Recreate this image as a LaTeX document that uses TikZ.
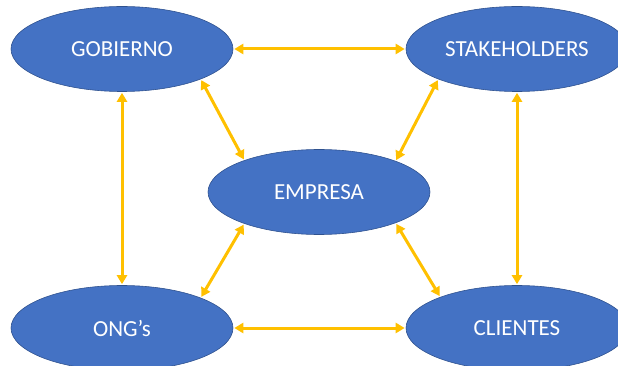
\documentclass[tikz,border=0pt]{standalone}
\usepackage{fontspec}
\setmainfont{Carlito}
\usetikzlibrary{shapes.geometric,arrows.meta}
\definecolor{nodeblue}{HTML}{4472C4}
\definecolor{nodeedge}{HTML}{2F528F}
\definecolor{linkgold}{HTML}{FFC000}

\begin{document}
\begin{tikzpicture}[x=1pt,y=-1pt,>={Triangle[length=9pt,width=10pt]},auto,main node/.style={ellipse,draw=nodeedge,line width=0.6pt,fill=nodeblue,text=white,inner sep=0pt,minimum width=222pt,minimum height=85pt,font=\fontsize{23}{28}\selectfont}]
                \useasboundingbox (0,0) rectangle (618,366);
                \clip (0,0) rectangle (618,366);
                \node[main node] (gobierno) at (122,49) {GOBIERNO};
                \node[main node] (stakeholders) [right of=gobierno,node distance=395pt] {STAKEHOLDERS};
                \node[main node] (ong) [below of=gobierno,node distance=279pt] {ONG’s};
                \node[main node] (clientes) [right of=ong,node distance=395pt] {CLIENTES};
                \node[main node] (empresa) at (319,192) {EMPRESA};

                \path[every edge/.style={draw=linkgold,line width=3pt,<->,shorten >=1pt,shorten <=1pt}]
                    (gobierno.east) edge (stakeholders.west)
                    (ong.east) edge (clientes.west)
                    (gobierno.south) edge (ong.north)
                    (stakeholders.south) edge (clientes.north)
                    (gobierno.-21) edge (empresa.157)
                    (stakeholders.-159) edge (empresa.22)
                    (ong.21) edge (empresa.-157)
                    (clientes.158) edge (empresa.-22)
                    ;
            \end{tikzpicture}
\end{document}
